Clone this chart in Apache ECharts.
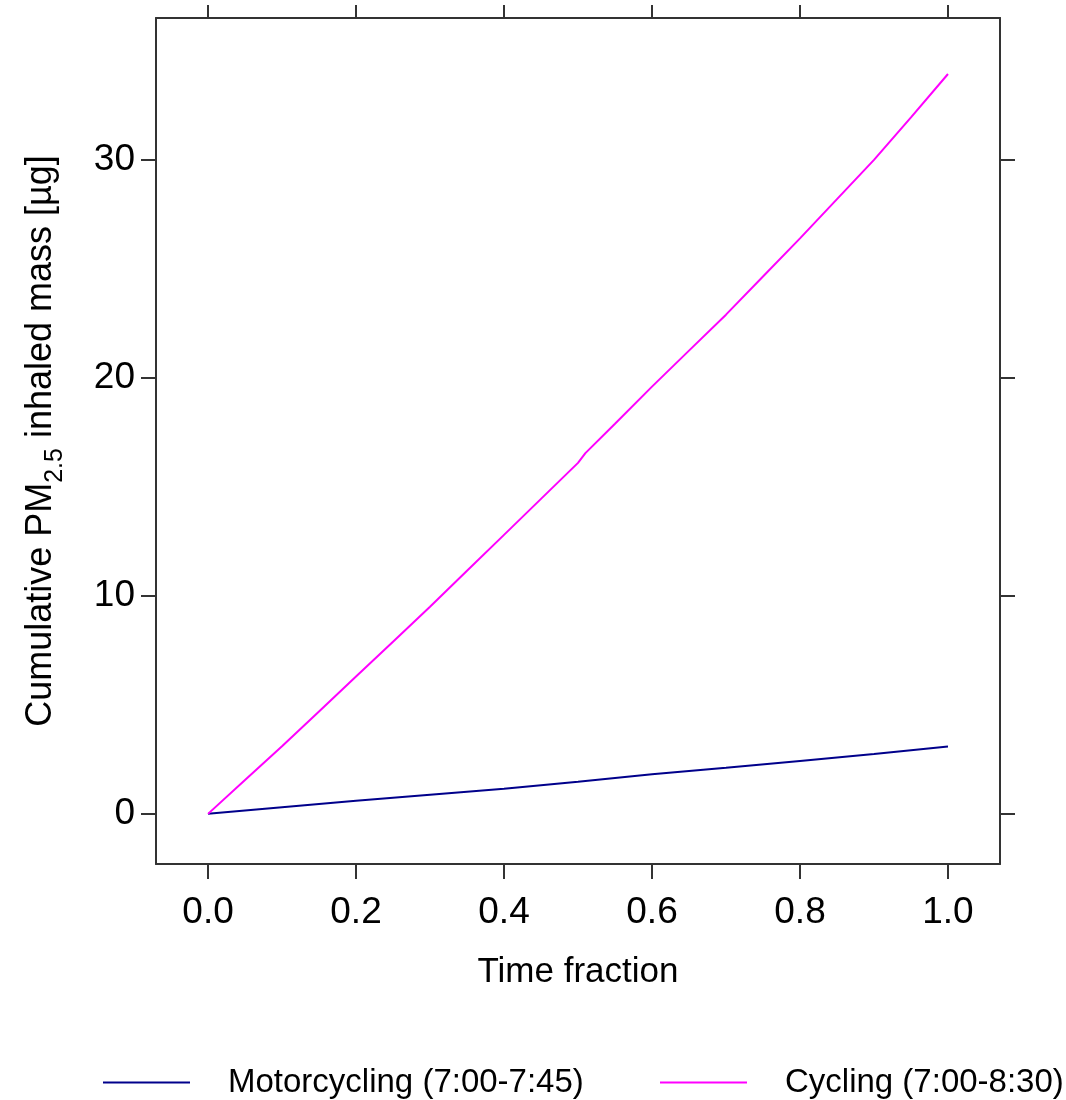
<!DOCTYPE html>
<html>
<head>
<meta charset="utf-8">
<script src="https://cdn.jsdelivr.net/npm/echarts@6/dist/echarts.min.js"></script>
<style>html,body{margin:0;padding:0;background:#fff;}#c{width:1066px;height:1100px;}</style>
</head>
<body>
<div id="c"></div>
<script>
const timeFraction = [0, 0.05, 0.1, 0.15, 0.2, 0.25, 0.3, 0.35, 0.4, 0.45, 0.5, 0.51, 0.55, 0.6, 0.65, 0.7, 0.75, 0.8, 0.85, 0.9, 0.95, 1.0];
const cycling = [0, 1.55, 3.1, 4.7, 6.3, 7.9, 9.5, 11.15, 12.8, 14.45, 16.1, 16.55, 17.9, 19.6, 21.25, 22.9, 24.65, 26.4, 28.2, 30.0, 31.95, 33.94];
const motoTime = [0, 0.1, 0.2, 0.3, 0.4, 0.5, 0.6, 0.7, 0.8, 0.9, 1.0];
const motorcycling = [0, 0.3, 0.6, 0.88, 1.15, 1.47, 1.82, 2.12, 2.43, 2.75, 3.09];
const xTicks = [0, 0.2, 0.4, 0.6, 0.8, 1.0];
const yTicks = [0, 10, 20, 30];
const seriesNames = ['Motorcycling (7:00-7:45)', 'Cycling (7:00-8:30)'];

const FONT = 'Liberation Sans, Arial, sans-serif';
const axisCol = '#333';
const chart = echarts.init(document.getElementById('c'), null, {renderer: 'canvas'});

function xAxisDef(pos, showLabel) {
  return {
    type: 'value', position: pos, min: -0.0703, max: 1.0703,
    axisLine: {show: true, onZero: false, lineStyle: {color: axisCol, width: 2}},
    axisTick: {show: true, inside: false, length: showLabel ? 15 : 13, customValues: xTicks, lineStyle: {color: axisCol, width: 2}},
    axisLabel: {show: showLabel, customValues: xTicks, margin: 30, fontSize: 37, color: '#000', fontFamily: FONT,
      formatter: v => v.toFixed(1)},
    splitLine: {show: false},
    name: showLabel ? 'Time fraction' : '', nameLocation: 'middle', nameGap: 91,
    nameTextStyle: {fontSize: 35, color: '#000', fontFamily: FONT}
  };
}
function yAxisDef(pos, showLabel) {
  return {
    type: 'value', position: pos, min: -2.3, max: 36.51,
    axisLine: {show: true, onZero: false, lineStyle: {color: axisCol, width: 2}},
    axisTick: {show: true, inside: false, length: 15, customValues: yTicks, lineStyle: {color: axisCol, width: 2}},
    axisLabel: {show: showLabel, customValues: yTicks, margin: 21, fontSize: 37, color: '#000', fontFamily: FONT},
    splitLine: {show: false},
    name: showLabel ? '{a|Cumulative PM}{s|2.5}{a| inhaled mass [µg]}' : '',
    nameLocation: 'middle', nameGap: 97,
    nameTextStyle: {color: '#000', fontFamily: FONT,
      rich: {a: {fontSize: 36, fontFamily: FONT, color: '#000', lineHeight: 44, verticalAlign: 'bottom'},
             s: {fontSize: 25, fontFamily: FONT, color: '#000', lineHeight: 30, verticalAlign: 'bottom', padding: [0, 0, -9, 0]}}}
  };
}

chart.setOption({
  animation: false,
  backgroundColor: '#fff',
  grid: {left: 156, right: 66, top: 18, bottom: 236, show: false},
  xAxis: [xAxisDef('bottom', true), xAxisDef('top', false)],
  yAxis: [yAxisDef('left', true), yAxisDef('right', false)],
  legend: [
    {data: [seriesNames[0]], left: 103, top: 1066, padding: 0, icon: 'rect', itemWidth: 87, itemHeight: 2,
     textStyle: {fontSize: 33, color: '#000', fontFamily: FONT, padding: [0, 0, 0, 33]}},
    {data: [seriesNames[1]], left: 660, top: 1066, padding: 0, icon: 'rect', itemWidth: 87, itemHeight: 2,
     textStyle: {fontSize: 33, color: '#000', fontFamily: FONT, padding: [0, 0, 0, 33]}}
  ],
  series: [
    {name: seriesNames[0], type: 'line', xAxisIndex: 0, yAxisIndex: 0, showSymbol: false, symbol: 'none',
     color: '#00008B', lineStyle: {color: '#00008B', width: 2},
     data: motoTime.map((t, i) => [t, motorcycling[i]])},
    {name: seriesNames[1], type: 'line', xAxisIndex: 0, yAxisIndex: 0, showSymbol: false, symbol: 'none',
     color: '#FF00FF', lineStyle: {color: '#FF00FF', width: 2},
     data: timeFraction.map((t, i) => [t, cycling[i]])}
  ]
});
</script>
</body>
</html>
